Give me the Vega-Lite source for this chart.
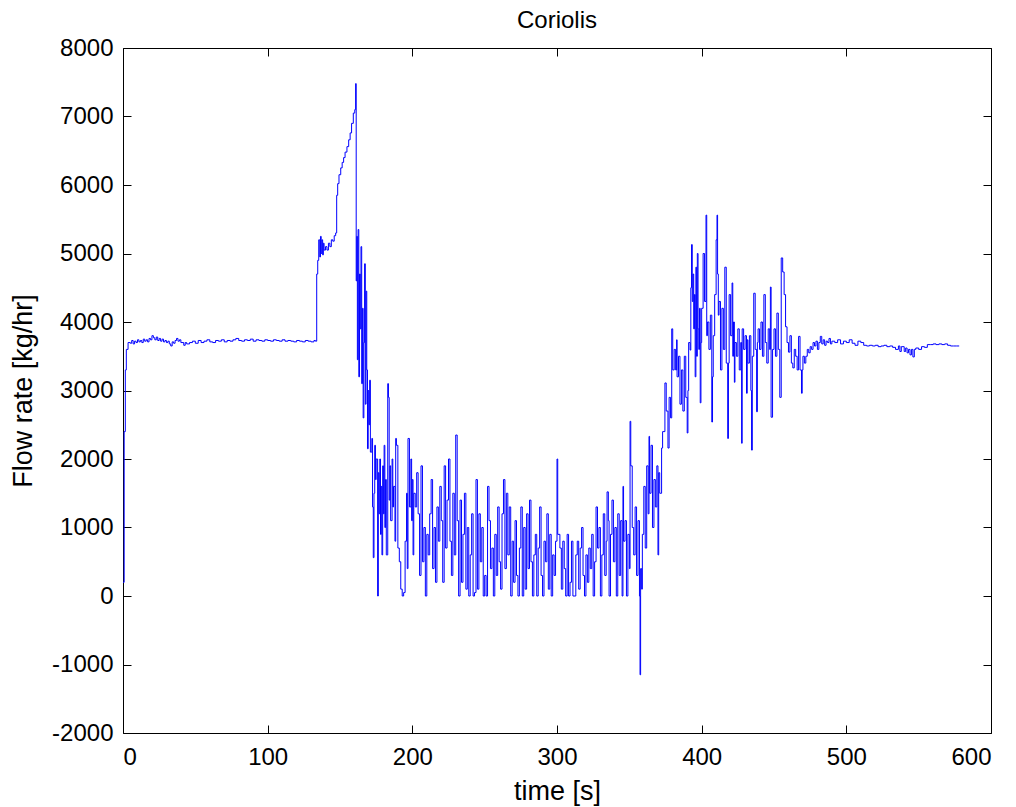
{
  "$schema": "https://vega.github.io/schema/vega-lite/v6.json",
  "width": 868,
  "height": 685,
  "autosize": {"type": "none"},
  "padding": {"left": 123, "top": 48, "right": 25, "bottom": 74},
  "background": "white",
  "title": {"text": "Coriolis", "fontSize": 24, "font": "Liberation Sans", "fontWeight": "normal", "color": "black", "offset": 3},
  "config": {
    "view": {"stroke": "black", "strokeWidth": 1},
    "axis": {
      "grid": false,
      "domain": false,
      "offset": -8,
      "tickColor": "black",
      "tickSize": 8,
      "labelFont": "Liberation Sans",
      "labelFontSize": 24,
      "labelColor": "black",
      "labelExpr": "toString(datum.value)",
      "titleFont": "Liberation Sans",
      "titleFontSize": 27,
      "titleFontWeight": "normal",
      "titleColor": "black"
    }
  },
  "data": {"values": [
    {"t":0,"v":200},{"t":0.8,"v":2400},{"t":1.6,"v":3300},{"t":2.3,"v":3600},{"t":3.5,"v":3700},
    {"t":5,"v":3690},{"t":6,"v":3730},{"t":7,"v":3680},{"t":8,"v":3720},{"t":9,"v":3700},{"t":10,"v":3740},{"t":11,"v":3710},{"t":12,"v":3730},{"t":13,"v":3700},{"t":14,"v":3750},{"t":15,"v":3720},{"t":16,"v":3740},{"t":17,"v":3710},{"t":18,"v":3760},{"t":19,"v":3740},{"t":20,"v":3800},{"t":21,"v":3770},{"t":22,"v":3740},{"t":23,"v":3780},{"t":24,"v":3730},{"t":25,"v":3760},{"t":26,"v":3720},{"t":27,"v":3750},{"t":28,"v":3710},{"t":29,"v":3730},{"t":30,"v":3700},{"t":31,"v":3720},{"t":32,"v":3680},{"t":33,"v":3650},{"t":34,"v":3710},{"t":35,"v":3690},{"t":36,"v":3730},{"t":37,"v":3760},{"t":38,"v":3720},{"t":39,"v":3740},{"t":40,"v":3700},
    {"t":42,"v":3660},{"t":43,"v":3700},{"t":44,"v":3680},{"t":46,"v":3700},{"t":48,"v":3720},{"t":50,"v":3690},{"t":52,"v":3730},{"t":54,"v":3700},{"t":56,"v":3720},{"t":58,"v":3740},{"t":60,"v":3710},{"t":62,"v":3700},{"t":64,"v":3730},{"t":66,"v":3720},{"t":68,"v":3740},{"t":70,"v":3710},{"t":72,"v":3730},{"t":74,"v":3720},{"t":76,"v":3740},{"t":78,"v":3760},{"t":80,"v":3730},{"t":82,"v":3720},{"t":84,"v":3740},{"t":86,"v":3730},{"t":88,"v":3750},{"t":90,"v":3720},{"t":92,"v":3740},{"t":94,"v":3730},{"t":96,"v":3720},{"t":98,"v":3740},{"t":100,"v":3730},{"t":102,"v":3720},{"t":104,"v":3740},{"t":106,"v":3730},{"t":108,"v":3720},{"t":110,"v":3740},{"t":112,"v":3720},{"t":114,"v":3730},{"t":116,"v":3720},{"t":118,"v":3710},{"t":120,"v":3730},{"t":122,"v":3720},{"t":124,"v":3710},{"t":126,"v":3730},{"t":128,"v":3720},{"t":130,"v":3710},{"t":132,"v":3730},{"t":133,"v":3720},
    {"t":133.9,"v":4700},{"t":134.6,"v":4900},{"t":135.3,"v":5200},{"t":136,"v":4950},{"t":136.5,"v":5250},{"t":137,"v":5000},{"t":137.5,"v":5200},{"t":138,"v":4980},{"t":138.5,"v":5150},{"t":139,"v":5050},{"t":140,"v":5100},{"t":141,"v":5050},{"t":142,"v":5150},{"t":143,"v":5100},{"t":144,"v":5200},{"t":145,"v":5180},{"t":146,"v":5260},{"t":147,"v":5300},
    {"t":147.7,"v":5850},{"t":148.4,"v":6020},{"t":149.3,"v":6150},{"t":150.5,"v":6250},{"t":151.5,"v":6330},{"t":152.5,"v":6400},{"t":153.5,"v":6480},{"t":154.8,"v":6560},{"t":156,"v":6660},{"t":157,"v":6760},{"t":158,"v":6900},{"t":159.2,"v":7050},{"t":160.2,"v":7100},
    {"t":160.8,"v":7480},{"t":161.2,"v":4600},{"t":161.6,"v":5250},{"t":162,"v":3450},{"t":162.5,"v":5350},{"t":163,"v":3200},{"t":163.5,"v":4700},{"t":164,"v":3900},{"t":164.5,"v":5100},{"t":165,"v":3100},{"t":165.5,"v":4200},{"t":166,"v":2600},{"t":166.5,"v":3700},{"t":167,"v":4850},{"t":167.5,"v":2800},{"t":168,"v":4450},{"t":168.5,"v":3300},{"t":169,"v":2150},{"t":169.5,"v":3000},{"t":170,"v":2500},{"t":170.5,"v":3150},{"t":171,"v":2100},{"t":172,"v":2300},{"t":172.5,"v":1300},{"t":173,"v":560},{"t":173.5,"v":1500},{"t":174,"v":2200},{"t":174.5,"v":1700},{"t":175,"v":2000},
    {"t":176,"v":0},{"t":176.5,"v":1800},{"t":177,"v":1200},{"t":177.5,"v":2000},{"t":178,"v":900},{"t":178.5,"v":1600},{"t":179,"v":600},{"t":179.5,"v":1900},{"t":180,"v":1200},{"t":180.5,"v":2200},{"t":181,"v":1000},{"t":181.5,"v":1700},{"t":182,"v":600},{"t":183,"v":3100},{"t":183.5,"v":2900},{"t":184,"v":1400},{"t":184.5,"v":1900},{"t":185,"v":1100},{"t":186,"v":2000},{"t":186.5,"v":1300},{"t":187,"v":1600},{"t":188,"v":800},{"t":188.5,"v":2300},{"t":189,"v":2200},{"t":190,"v":700},{"t":191,"v":500},{"t":192,"v":100},{"t":193,"v":0},{"t":194,"v":50},{"t":195,"v":800},{"t":196,"v":1500},{"t":196.5,"v":400},{"t":197,"v":2300},{"t":198,"v":1300},{"t":199,"v":2000},{"t":199.5,"v":1100},
    {"t":200,"v":1700},{"t":200.5,"v":600},{"t":201,"v":1500},{"t":202,"v":1300},{"t":203,"v":1800},{"t":204,"v":1200},{"t":205,"v":300},{"t":206,"v":1900},{"t":207,"v":500},{"t":208,"v":1000},{"t":209,"v":0},{"t":210,"v":900},{"t":211,"v":600},{"t":212,"v":1200},{"t":213,"v":1700},{"t":214,"v":400},{"t":215,"v":1000},{"t":216,"v":200},{"t":217,"v":1300},{"t":218,"v":800},{"t":219,"v":1600},{"t":220,"v":1100},{"t":221,"v":200},{"t":222,"v":1900},{"t":223,"v":700},{"t":224,"v":1400},{"t":225,"v":2000},{"t":226,"v":800},{"t":227,"v":300},{"t":228,"v":1500},{"t":229,"v":600},{"t":230,"v":2350},{"t":231,"v":1100},{"t":232,"v":0},{"t":233,"v":1400},{"t":234,"v":200},{"t":235,"v":900},{"t":236,"v":1500},{"t":237,"v":100},{"t":238,"v":1000},{"t":239,"v":0},{"t":240,"v":600},{"t":241,"v":1200},{"t":242,"v":0},{"t":243,"v":50},{"t":244,"v":1700},{"t":245,"v":100},{"t":246,"v":1200},{"t":247,"v":500},{"t":248,"v":1000},{"t":249,"v":0},{"t":250,"v":300},{"t":251,"v":0},{"t":252,"v":1600},{"t":253,"v":1100},{"t":254,"v":400},{"t":255,"v":700},{"t":256,"v":0},{"t":257,"v":900},{"t":258,"v":300},{"t":259,"v":1300},{"t":260,"v":500},{"t":261,"v":100},{"t":262,"v":1200},{"t":263,"v":1700},{"t":264,"v":400},{"t":265,"v":1500},{"t":266,"v":600},{"t":267,"v":1300},{"t":268,"v":0},{"t":269,"v":800},{"t":270,"v":200},{"t":271,"v":1100},{"t":272,"v":300},{"t":273,"v":0},{"t":274,"v":700},{"t":275,"v":1300},{"t":276,"v":0},{"t":277,"v":1000},{"t":278,"v":100},{"t":279,"v":1200},{"t":280,"v":400},{"t":281,"v":1400},{"t":282,"v":500},{"t":283,"v":0},{"t":284,"v":600},{"t":285,"v":900},{"t":286,"v":0},{"t":287,"v":700},{"t":288,"v":1300},{"t":289,"v":300},{"t":290,"v":0},{"t":291,"v":800},{"t":292,"v":500},{"t":293,"v":1200},{"t":294,"v":100},{"t":295,"v":900},{"t":296,"v":0},{"t":297,"v":600},{"t":298,"v":300},{"t":299,"v":800},{"t":300,"v":2000},{"t":300.5,"v":900},{"t":302,"v":700},{"t":303,"v":100},{"t":304,"v":800},{"t":305,"v":400},{"t":306,"v":0},{"t":307,"v":900},{"t":308,"v":0},{"t":309,"v":200},{"t":310,"v":800},{"t":311,"v":0},{"t":313,"v":600},{"t":314,"v":800},{"t":315,"v":100},{"t":316,"v":700},{"t":317,"v":1000},{"t":318,"v":300},{"t":319,"v":0},{"t":320,"v":600},{"t":321,"v":200},{"t":322,"v":700},{"t":323,"v":400},{"t":324,"v":900},{"t":325,"v":0},{"t":326,"v":500},{"t":327,"v":1300},{"t":328,"v":700},{"t":329,"v":1000},{"t":330,"v":0},{"t":331,"v":600},{"t":332,"v":1200},{"t":333,"v":300},{"t":334,"v":800},{"t":334.6,"v":1520},{"t":335.5,"v":1100},{"t":336,"v":0},{"t":337,"v":900},{"t":338,"v":1400},{"t":339,"v":500},{"t":340,"v":1000},{"t":341,"v":0},{"t":342,"v":1200},{"t":343,"v":300},{"t":344,"v":1100},{"t":345,"v":0},{"t":345.6,"v":1600},{"t":346,"v":800},{"t":347,"v":1100},{"t":348,"v":0},{"t":349,"v":900},{"t":350,"v":400},{"t":350.5,"v":2550},{"t":351,"v":1900},{"t":352,"v":1000},{"t":353,"v":600},{"t":354,"v":1300},{"t":355,"v":300},{"t":356,"v":1100},{"t":357,"v":0},{"t":357.4,"v":-1150},{"t":357.8,"v":400},{"t":358.5,"v":100},{"t":359,"v":900},{"t":360,"v":1600},{"t":361,"v":700},{"t":362,"v":1900},{"t":363,"v":1200},{"t":363.6,"v":2330},{"t":364,"v":1500},{"t":365,"v":2200},{"t":366,"v":1000},{"t":367,"v":1700},{"t":368,"v":1300},{"t":369,"v":1900},{"t":369.8,"v":600},{"t":370.3,"v":1800},{"t":371,"v":1500},{"t":372.3,"v":2160},{"t":373,"v":2400},{"t":374.6,"v":3110},{"t":375.5,"v":2700},{"t":376.7,"v":2160},{"t":377.5,"v":2900},{"t":378.5,"v":2600},{"t":379.3,"v":3900},{"t":380,"v":3300},{"t":381,"v":3600},{"t":382,"v":3300},{"t":382.7,"v":3740},{"t":383,"v":3200},{"t":384,"v":3500},{"t":385,"v":2800},{"t":386,"v":3300},{"t":387,"v":2700},{"t":388,"v":3500},{"t":389,"v":2900},{"t":390,"v":2380},{"t":390.5,"v":3000},{"t":391,"v":3700},{"t":392,"v":3590},{"t":392.5,"v":4500},{"t":393,"v":5130},{"t":393.5,"v":4300},{"t":394,"v":4700},{"t":394.5,"v":3900},{"t":395,"v":4400},{"t":395.5,"v":3200},{"t":396,"v":4800},{"t":396.5,"v":3500},{"t":397,"v":5000},{"t":397.5,"v":3900},{"t":398,"v":3600},{"t":398.5,"v":4200},{"t":399,"v":2820},{"t":399.5,"v":3700},{"t":400,"v":4200},{"t":401,"v":5000},{"t":402,"v":4300},{"t":403,"v":5560},{"t":403.5,"v":3800},{"t":404,"v":4000},{"t":405,"v":3600},{"t":406,"v":4100},{"t":407,"v":2540},{"t":407.5,"v":3200},{"t":408,"v":3800},{"t":409,"v":4400},{"t":410,"v":5200},{"t":410.6,"v":5560},{"t":411,"v":4700},{"t":411.5,"v":4100},{"t":412,"v":4300},{"t":413,"v":3300},{"t":414,"v":4200},{"t":415,"v":3600},{"t":416,"v":4800},{"t":417,"v":3400},{"t":418,"v":2300},{"t":418.5,"v":3400},{"t":419,"v":4400},{"t":420,"v":3800},{"t":421,"v":4570},{"t":421.5,"v":3500},{"t":422,"v":4000},{"t":422.6,"v":3120},{"t":423,"v":3700},{"t":424,"v":3500},{"t":425,"v":3900},{"t":426,"v":3300},{"t":427,"v":3700},{"t":427.6,"v":2230},{"t":428,"v":3900},{"t":429,"v":3600},{"t":430,"v":3800},{"t":431,"v":2960},{"t":431.5,"v":3740},{"t":432,"v":3400},{"t":433,"v":3800},{"t":434,"v":3000},{"t":434.5,"v":2130},{"t":435,"v":3500},{"t":436,"v":4420},{"t":437,"v":3600},{"t":438,"v":2690},{"t":438.5,"v":3700},{"t":439,"v":3900},{"t":440,"v":3600},{"t":441,"v":4000},{"t":442,"v":3500},{"t":443,"v":4400},{"t":444,"v":3700},{"t":445,"v":3400},{"t":446,"v":3900},{"t":447,"v":3600},{"t":447.5,"v":4510},{"t":448,"v":2610},{"t":449,"v":3600},{"t":450,"v":3900},{"t":451,"v":3500},{"t":452,"v":4130},{"t":453,"v":3600},{"t":454,"v":2900},{"t":455,"v":4935},{"t":456,"v":4730},{"t":457,"v":4400},{"t":458,"v":3930},{"t":459,"v":3700},{"t":460,"v":3560},{"t":461,"v":3800},{"t":462,"v":3400},{"t":463,"v":3330},{"t":464,"v":3600},{"t":465,"v":3500},{"t":466,"v":3300},{"t":467,"v":3790},{"t":468,"v":3300},{"t":469,"v":2960},{"t":469.5,"v":3300},{"t":470,"v":3500},{"t":471,"v":3400},{"t":472,"v":3500},{"t":473,"v":3600},{"t":474,"v":3550},{"t":475,"v":3640},{"t":476,"v":3600},{"t":477,"v":3700},{"t":478,"v":3650},{"t":479,"v":3720},{"t":480,"v":3600},{"t":481,"v":3700},{"t":482,"v":3790},{"t":483,"v":3680},{"t":484,"v":3740},{"t":485,"v":3660},{"t":486,"v":3720},{"t":487,"v":3700},{"t":488,"v":3760},{"t":489,"v":3680},{"t":490,"v":3720},{"t":492,"v":3700},{"t":494,"v":3740},{"t":496,"v":3680},{"t":498,"v":3720},{"t":500,"v":3700},{"t":502,"v":3740},{"t":504,"v":3690},{"t":506,"v":3660},{"t":508,"v":3720},{"t":510,"v":3700},{"t":512,"v":3660},{"t":514,"v":3650},{"t":516,"v":3660},{"t":518,"v":3650},{"t":520,"v":3660},{"t":522,"v":3640},{"t":524,"v":3650},{"t":526,"v":3660},{"t":528,"v":3640},{"t":530,"v":3650},{"t":532,"v":3630},{"t":534,"v":3600},{"t":536,"v":3650},{"t":537,"v":3570},{"t":538,"v":3640},{"t":540,"v":3570},{"t":541,"v":3620},{"t":542,"v":3550},{"t":543,"v":3600},{"t":544,"v":3520},{"t":545,"v":3600},{"t":546,"v":3490},{"t":547,"v":3600},{"t":548,"v":3620},{"t":550,"v":3600},{"t":552,"v":3640},{"t":554,"v":3630},{"t":556,"v":3670},{"t":558,"v":3670},{"t":560,"v":3680},{"t":562,"v":3670},{"t":564,"v":3680},{"t":566,"v":3670},{"t":568,"v":3680},{"t":570,"v":3660},{"t":572,"v":3650},{"t":574,"v":3650},{"t":576,"v":3650},{"t":578,"v":3650}
  ]},
  "layer": [
    {
      "mark": {"type": "line", "interpolate": "step-after", "color": "#0000ff", "strokeWidth": 1},
      "encoding": {
        "x": {"field": "t", "type": "quantitative", "scale": {"domain": [0, 600], "nice": false, "zero": false},
              "axis": {"orient": "bottom", "values": [0,100,200,300,400,500,600], "title": "time [s]", "labelPadding": 12, "titlePadding": 9}},
        "y": {"field": "v", "type": "quantitative", "scale": {"domain": [-2000, 8000], "nice": false, "zero": false},
              "axis": {"orient": "left", "values": [-2000,-1000,0,1000,2000,3000,4000,5000,6000,7000,8000], "title": "Flow rate [kg/hr]", "labelPadding": 10, "titlePadding": 14}}
      }
    },
    {
      "mark": {"type": "line", "opacity": 0, "strokeWidth": 0},
      "encoding": {
        "x": {"field": "t", "type": "quantitative", "scale": {"domain": [0, 600], "nice": false, "zero": false},
              "axis": {"orient": "top", "values": [0,100,200,300,400,500,600], "labels": false, "title": null}},
        "y": {"field": "v", "type": "quantitative", "scale": {"domain": [-2000, 8000], "nice": false, "zero": false},
              "axis": {"orient": "right", "values": [-2000,-1000,0,1000,2000,3000,4000,5000,6000,7000,8000], "labels": false, "title": null}}
      }
    }
  ],
  "resolve": {"scale": {"x": "independent", "y": "independent"}, "axis": {"x": "independent", "y": "independent"}}
}
